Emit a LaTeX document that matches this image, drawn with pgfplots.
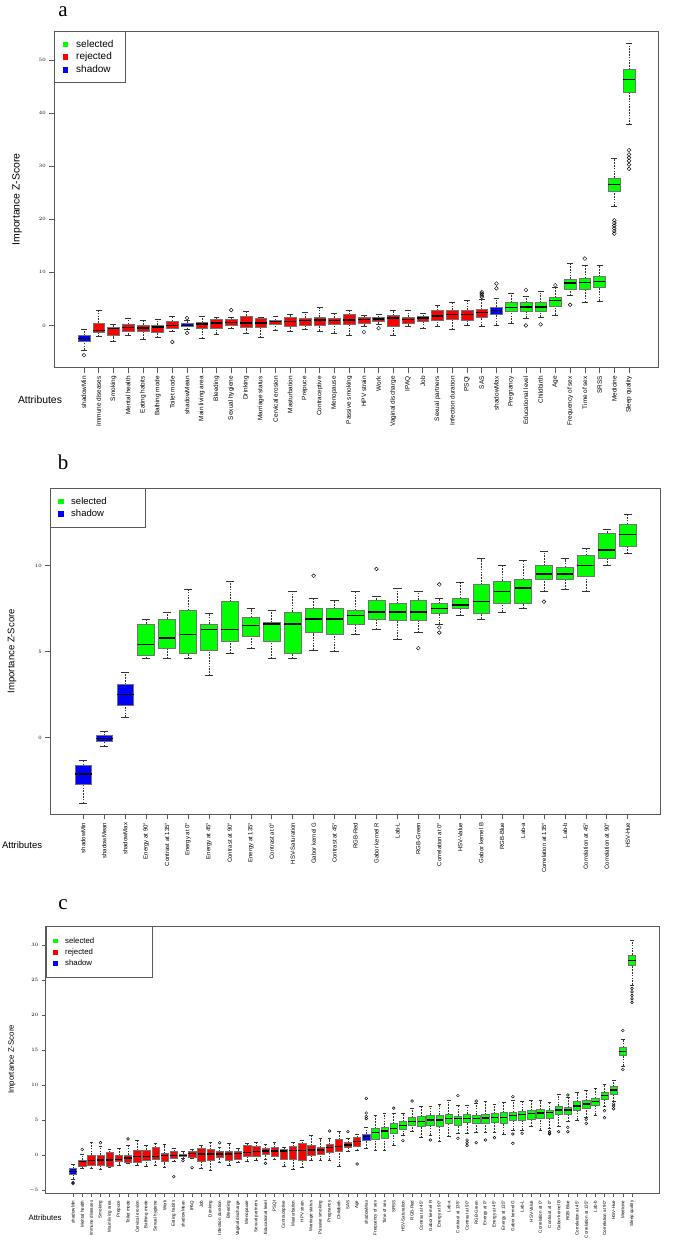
\documentclass[border=0pt]{standalone}
\usepackage{fontspec}
\setmainfont{Liberation Sans}
\newfontfamily\panelfont{Liberation Serif}
\usepackage{pgfplots}
\pgfplotsset{compat=1.18}
\usepgfplotslibrary{statistics}
\definecolor{sel}{RGB}{0,255,0}
\definecolor{rej}{RGB}{255,0,0}
\definecolor{shd}{RGB}{0,0,255}
% #1 colour, #2 position, #3 lower whisker, #4 lower quartile, #5 median, #6 upper quartile, #7 upper whisker, #8 outliers
\newcommand{\bx}[8]{\addplot[forget plot, draw=black!80, mark=o, mark options={black, line width=0.45pt, fill=none, solid},
  boxplot/every box/.style={draw=black!55, line width=0.5pt, fill=#1},
  boxplot prepared={draw position=#2, lower whisker=#3, lower quartile=#4, median=#5, upper quartile=#6, upper whisker=#7}] coordinates {#8};}
% legend square: colour, half size, half cell width
\newcommand{\legsq}[3]{\addlegendimage{legend image code/.code={\fill[#1] (-#2,-#2) rectangle (#2,#2); \path (-#3,0) (#3,0);}}}
\pgfplotsset{
 rstyle/.style={
  scale only axis,
  axis line style={draw=black!65, line width=0.8pt},
  tick style={draw=black!65, line width=0.6pt},
  tick align=outside, xtick pos=bottom, ytick pos=left,
  major tick length=5pt,
  x tick label style={rotate=90, anchor=east},
  enlargelimits=false,
  boxplot/draw direction=y,
  boxplot/box extend=0.8,
  boxplot/whisker extend=0.4,
  boxplot/every median/.style={line width=1.4pt, draw=black},
  boxplot/every whisker/.style={draw=black!80, line width=0.5pt},
  boxplot/draw/lower whisker/.code={%
    \draw[/pgfplots/boxplot/every whisker/.try, dash pattern=on 1.6pt off 1.2pt]
      (boxplot box cs:\pgfplotsboxplotvalue{lower whisker},0.5) -- (boxplot box cs:\pgfplotsboxplotvalue{lower quartile},0.5);
    \draw[/pgfplots/boxplot/every whisker/.try]
      (boxplot whisker cs:\pgfplotsboxplotvalue{lower whisker},0) -- (boxplot whisker cs:\pgfplotsboxplotvalue{lower whisker},1);
  },
  boxplot/draw/upper whisker/.code={%
    \draw[/pgfplots/boxplot/every whisker/.try, dash pattern=on 1.6pt off 1.2pt]
      (boxplot box cs:\pgfplotsboxplotvalue{upper quartile},0.5) -- (boxplot box cs:\pgfplotsboxplotvalue{upper whisker},0.5);
    \draw[/pgfplots/boxplot/every whisker/.try]
      (boxplot whisker cs:\pgfplotsboxplotvalue{upper whisker},0) -- (boxplot whisker cs:\pgfplotsboxplotvalue{upper whisker},1);
  },
  legend style={at={(0,1)}, anchor=north west, draw=black!65, line width=0.7pt, inner xsep=2pt, inner ysep=6.5pt, legend cell align=left, row sep=0pt},
 }
}
\begin{document}
\begin{tikzpicture}[x=1pt,y=1pt]
\path[use as bounding box] (0,0) rectangle (685,-1243);
\node[font=\panelfont\fontsize{21}{21}\selectfont] at (63,-12) {a};
\node[font=\panelfont\fontsize{21}{21}\selectfont] at (63,-462) {b};
\node[font=\panelfont\fontsize{21}{21}\selectfont] at (63,-905) {c};

% ---------------- panel a ----------------
\begin{axis}[rstyle, at={(54.2pt,-367.7pt)}, anchor=south west,
  width=604.6pt, height=336.7pt,
  xmin=-2.02, xmax=39.02, ymin=-7.95, ymax=55.45,
  ytick={0,10,20,30,40,50},
  y tick label style={font=\fontsize{5.5}{6}\selectfont},
  x tick label style={font=\fontsize{6.4}{7}\selectfont},
  xtick={0,...,37},
  xticklabels={shadowMin,Immune diseases,Smoking,Mental health,Eating habits,Bathing mode,Toilet mode,shadowMean,Main living area,Bleeding,Sexual hygiene,Drinking,Marriage status,Cervical erosion,Masturbation,Prepuce,Contraceptive,Menopause,Passive smoking,HPV strain,Work,Vaginal discharge,IPAQ,Job,Sexual partners,Infection duration,PSQI,SAS,shadowMax,Pregnancy,Educational level,Childbirth,Age,Frequency of sex,Time of sex,SRSS,Medicine,Sleep quality},
  ylabel={Importance Z-Score}, ylabel style={at={(axis description cs:-0.0615,0.5)}, anchor=center, font=\fontsize{10.4}{12}\selectfont},
  xlabel={Attributes}, xlabel style={at={(axis description cs:-0.0235,-0.096)}, anchor=center, font=\fontsize{10.4}{12}\selectfont},
  legend style={font=\fontsize{10}{11.5}\selectfont},
  mark size=1.9pt,
]
\legsq{sel}{2.2pt}{8.5pt}\addlegendentry{\makebox[45pt][l]{selected}}
\legsq{rej}{2.2pt}{8.5pt}\addlegendentry{\makebox[45pt][l]{rejected}}
\legsq{shd}{2.2pt}{8.5pt}\addlegendentry{\makebox[45pt][l]{shadow}}
\bx{shd}{0}{-4.6}{-3.0}{-2.4}{-1.9}{-0.75}{(0,-5.6)}
\bx{rej}{1}{-2.1}{-1.25}{-0.9}{0.5}{2.9}{}
\bx{rej}{2}{-3.0}{-1.9}{-0.6}{-0.25}{0.2}{}
\bx{rej}{3}{-1.75}{-1.1}{-0.4}{0.25}{1.4}{}
\bx{rej}{4}{-2.5}{-1.1}{-0.5}{0.1}{0.9}{}
\bx{rej}{5}{-2.25}{-1.25}{-0.3}{0.1}{1.1}{}
\bx{rej}{6}{-1.1}{-0.5}{0.0}{0.8}{1.7}{(0,-3.1)}
\bx{shd}{7}{-0.7}{-0.2}{0.05}{0.35}{0.9}{(0,1.4) (0,-1.4)}
\bx{rej}{8}{-2.4}{-0.6}{0.25}{0.6}{1.75}{}
\bx{rej}{9}{-1.6}{-0.5}{0.45}{1.1}{1.6}{}
\bx{rej}{10}{-0.6}{0.0}{0.55}{1.1}{1.6}{(0,2.9)}
\bx{rej}{11}{-1.5}{-0.4}{0.5}{1.8}{2.7}{}
\bx{rej}{12}{-2.25}{-0.4}{0.5}{1.4}{1.5}{}
\bx{rej}{13}{-0.9}{0.2}{0.7}{1.0}{1.75}{}
\bx{rej}{14}{-1.1}{-0.1}{0.75}{1.6}{2.2}{}
\bx{rej}{15}{-0.75}{0.1}{0.9}{1.4}{2.5}{}
\bx{rej}{16}{-1.0}{0.1}{1.0}{1.6}{3.5}{}
\bx{rej}{17}{-1.4}{0.25}{0.95}{1.4}{2.25}{}
\bx{rej}{18}{-1.75}{0.19}{1.0}{2.06}{2.9}{}
\bx{rej}{19}{-0.1}{0.37}{1.1}{1.56}{1.9}{(0,-1.25)}
\bx{rej}{20}{0.3}{0.8}{1.2}{1.56}{2.06}{(0,-0.5)}
\bx{rej}{21}{-1.75}{-0.2}{1.4}{1.9}{2.9}{}
\bx{rej}{22}{-0.1}{0.4}{1.1}{1.6}{2.9}{}
\bx{rej}{23}{-0.5}{0.75}{1.4}{1.75}{2.25}{}
\bx{rej}{24}{-0.1}{1.0}{1.75}{2.8}{3.8}{}
\bx{rej}{25}{-0.75}{1.25}{2.1}{2.9}{4.4}{}
\bx{rej}{26}{0.1}{0.9}{2.06}{2.9}{4.7}{}
\bx{rej}{27}{-0.1}{1.5}{2.5}{3.0}{5.0}{(0,5.4) (0,5.7) (0,6.0) (0,6.3)}
\bx{shd}{28}{0.1}{2.1}{2.8}{3.5}{5.1}{(0,7.0) (0,7.9)}
\bx{sel}{29}{0.5}{2.6}{3.4}{4.3}{6.1}{}
\bx{sel}{30}{1.4}{2.6}{3.5}{4.3}{5.5}{(0,6.7) (0,0.0)}
\bx{sel}{31}{1.6}{2.6}{3.5}{4.3}{6.5}{(0,0.2)}
\bx{sel}{32}{2.0}{3.7}{4.7}{5.3}{7.2}{(0,7.6)}
\bx{sel}{33}{5.6}{6.9}{8.0}{8.75}{11.7}{(0,3.9)}
\bx{sel}{34}{4.4}{6.75}{8.1}{8.9}{11.4}{(0,12.6)}
\bx{sel}{35}{4.6}{7.2}{8.25}{9.25}{11.4}{}
\bx{sel}{36}{22.5}{25.3}{26.6}{27.8}{31.5}{(0,17.3) (0,17.8) (0,18.3) (0,18.8) (0,19.3) (0,19.8)}
\bx{sel}{37}{37.8}{44.0}{46.3}{48.2}{53.2}{(0,29.5) (0,30.3) (0,31.0) (0,31.6) (0,32.2) (0,33.0)}
\end{axis}

% ---------------- panel b ----------------
\begin{axis}[rstyle, at={(50.2pt,-814.3pt)}, anchor=south west,
  width=610.6pt, height=326.3pt,
  xmin=-1.58, xmax=27.58, ymin=-4.45, ymax=14.5,
  ytick={0,5,10},
  y tick label style={font=\fontsize{5.5}{6}\selectfont},
  x tick label style={font=\fontsize{6}{7}\selectfont},
  xtick={0,...,26},
  xticklabels={shadowMin,shadowMean,shadowMax,Energy at 90°,Contrast at 135°,Energy at 0°,Energy at 45°,Contrast at 90°,Energy at 135°,Contrast at 0°,HSV-Saturation,Gabor kernel G,Contrast at 45°,RGB-Red,Gabor kernel R,Lab-L,RGB-Green,Correlation at 0°,HSV-Value,Gabor kernel B,RGB-Blue,Lab-a,Correlation at 135°,Lab-b,Correlation at 45°,Correlation at 90°,HSV-Hue},
  ylabel={Importance Z-Score}, ylabel style={at={(axis description cs:-0.0626,0.5)}, anchor=center, font=\fontsize{9.5}{11}\selectfont},
  xlabel={Attributes}, xlabel style={at={(axis description cs:-0.046,-0.094)}, anchor=center, font=\fontsize{9.5}{11}\selectfont},
  legend style={font=\fontsize{9.5}{11}\selectfont, inner ysep=7pt},
  mark size=1.9pt,
]
\legsq{sel}{2.2pt}{8pt}\addlegendentry{\makebox[70pt][l]{selected}}
\legsq{shd}{2.2pt}{8pt}\addlegendentry{\makebox[70pt][l]{shadow}}
\bx{shd}{0}{-3.8}{-2.7}{-2.1}{-1.6}{-1.3}{}
\bx{shd}{1}{-0.5}{-0.2}{-0.05}{0.15}{0.35}{}
\bx{shd}{2}{1.2}{1.9}{2.5}{3.1}{3.8}{}
\bx{sel}{3}{4.6}{4.8}{5.4}{6.6}{6.9}{}
\bx{sel}{4}{4.6}{5.2}{5.8}{6.9}{7.3}{}
\bx{sel}{5}{4.6}{4.9}{6.0}{7.4}{8.6}{}
\bx{sel}{6}{3.6}{5.1}{6.3}{6.6}{7.2}{}
\bx{sel}{7}{4.9}{5.6}{6.3}{7.9}{9.1}{}
\bx{sel}{8}{5.2}{5.9}{6.5}{7.0}{7.5}{}
\bx{sel}{9}{4.6}{5.6}{6.6}{6.7}{7.4}{}
\bx{sel}{10}{4.6}{4.9}{6.6}{7.3}{8.5}{}
\bx{sel}{11}{5.1}{6.1}{6.9}{7.5}{8.1}{(0,9.4)}
\bx{sel}{12}{5.0}{6.0}{6.9}{7.5}{8.0}{}
\bx{sel}{13}{6.0}{6.6}{7.1}{7.4}{8.5}{}
\bx{sel}{14}{6.3}{6.9}{7.3}{8.0}{8.2}{(0,9.8)}
\bx{sel}{15}{5.7}{6.8}{7.3}{7.8}{8.7}{}
\bx{sel}{16}{6.1}{6.8}{7.3}{8.0}{8.5}{(0,5.2)}
\bx{sel}{17}{6.6}{7.2}{7.5}{7.8}{8.1}{(0,8.9) (0,6.4) (0,6.1)}
\bx{sel}{18}{7.1}{7.5}{7.7}{8.1}{9.0}{}
\bx{sel}{19}{6.9}{7.2}{7.9}{8.9}{10.4}{}
\bx{sel}{20}{7.3}{7.8}{8.5}{9.1}{10.0}{}
\bx{sel}{21}{7.5}{7.8}{8.7}{9.2}{10.3}{}
\bx{sel}{22}{8.5}{9.2}{9.5}{10.0}{10.8}{(0,7.9)}
\bx{sel}{23}{8.6}{9.2}{9.5}{9.9}{10.4}{}
\bx{sel}{24}{8.5}{9.4}{10.0}{10.6}{11.0}{}
\bx{sel}{25}{10.0}{10.4}{10.9}{11.9}{12.1}{}
\bx{sel}{26}{10.7}{11.1}{11.8}{12.4}{13.0}{}
\end{axis}

% ---------------- panel c ----------------
\begin{axis}[rstyle, at={(45.7pt,-1193pt)}, anchor=south west,
  width=613.6pt, height=267pt,
  xmin=-2.98, xmax=63.98, ymin=-5.43, ymax=32.71,
  ytick={-5,0,5,10,15,20,25,30},
  major tick length=4pt,
  y tick label style={font=\fontsize{4.6}{5}\selectfont},
  x tick label style={font=\fontsize{4.5}{5}\selectfont},
  xtick={0,...,61},
  xticklabels={shadowMin,Mental health,Immune diseases,Smoking,Main living area,Prepuce,Toilet mode,Cervical erosion,Bathing mode,Sexual hygiene,Work,Eating habits,shadowMean,IPAQ,Job,Drinking,Infection duration,Bleeding,Vaginal discharge,Menopause,Sexual partners,Educational level,PSQI,Contraceptive,Masturbation,HPV strain,Marriage status,Passive smoking,Pregnancy,Childbirth,SAS,Age,shadowMax,Frequency of sex,Time of sex,SRSS,HSV-Saturation,RGB-Red,Contrast at 45°,Gabor kernel R,Energy at 90°,Lab-a,Contrast at 135°,Contrast at 90°,RGB-Green,Energy at 0°,Energy at 45°,Energy at 135°,Gabor kernel G,Lab-L,HSV-Value,Correlation at 0°,Contrast at 0°,Gabor kernel B,RGB-Blue,Correlation at 45°,Correlation at 135°,Lab-b,Correlation at 90°,HSV-Hue,Medicine,Sleep quality},
  ylabel={Importance Z-Score}, ylabel style={at={(axis description cs:-0.055,0.5)}, anchor=center, font=\fontsize{7.8}{9}\selectfont},
  xlabel={Attributes}, xlabel style={at={(axis description cs:-0.001,-0.094)}, anchor=center, font=\fontsize{7.8}{9}\selectfont},
  legend style={font=\fontsize{7.8}{9}\selectfont, inner xsep=1.5pt, inner ysep=9pt, row sep=0pt},
  mark size=1.4pt,
]
\legsq{sel}{1.8pt}{7.5pt}\addlegendentry{\makebox[84pt][l]{selected}}
\legsq{rej}{1.8pt}{7.5pt}\addlegendentry{\makebox[84pt][l]{rejected}}
\legsq{shd}{1.8pt}{7.5pt}\addlegendentry{\makebox[84pt][l]{shadow}}
\bx{shd}{0}{-3.4}{-2.8}{-2.38}{-1.95}{-1.33}{(0,-3.95) (0,-4.1)}
\bx{rej}{1}{-1.9}{-1.57}{-0.95}{-0.71}{0.14}{(0,0.8)}
\bx{rej}{2}{-1.9}{-1.5}{-0.8}{0.0}{1.76}{}
\bx{rej}{3}{-2.05}{-1.4}{-0.7}{0.0}{1.2}{(0,1.76)}
\bx{rej}{4}{-1.76}{-1.57}{-0.71}{0.38}{0.8}{}
\bx{rej}{5}{-1.4}{-0.95}{-0.62}{-0.05}{0.95}{}
\bx{rej}{6}{-1.2}{-1.0}{-0.43}{0.0}{1.38}{(0,2.3)}
\bx{rej}{7}{-1.4}{-1.1}{-0.24}{0.62}{2.05}{}
\bx{rej}{8}{-1.57}{-0.71}{-0.24}{0.71}{1.38}{}
\bx{rej}{9}{-1.5}{-0.62}{-0.19}{1.05}{1.67}{}
\bx{rej}{10}{-1.76}{-0.95}{-0.1}{0.24}{1.48}{}
\bx{rej}{11}{-0.95}{-0.48}{-0.05}{0.48}{0.95}{(0,-3.1)}
\bx{shd}{12}{-0.48}{-0.24}{-0.05}{0.14}{0.57}{(0,-0.81)}
\bx{rej}{13}{-0.52}{-0.29}{0.24}{0.57}{0.86}{(0,-1.81)}
\bx{rej}{14}{-1.9}{-0.86}{0.14}{0.9}{1.33}{}
\bx{rej}{15}{-2.24}{-0.71}{0.14}{0.81}{1.86}{}
\bx{rej}{16}{-1.1}{-0.38}{0.14}{0.48}{1.1}{(0,1.76)}
\bx{rej}{17}{-1.4}{-0.71}{0.14}{0.48}{1.67}{}
\bx{rej}{18}{-1.1}{-0.62}{0.2}{0.57}{0.95}{}
\bx{rej}{19}{-0.86}{-0.14}{0.33}{1.38}{1.67}{}
\bx{rej}{20}{-0.71}{-0.14}{0.48}{1.19}{1.81}{}
\bx{rej}{21}{-0.62}{0.14}{0.55}{0.9}{1.57}{(0,-1.2)}
\bx{rej}{22}{-0.62}{-0.24}{0.57}{1.05}{1.76}{}
\bx{rej}{23}{-1.57}{-0.62}{0.57}{0.81}{1.05}{}
\bx{rej}{24}{-2.05}{-0.57}{0.62}{1.19}{1.76}{}
\bx{rej}{25}{-1.76}{-0.71}{0.67}{1.67}{2.14}{}
\bx{rej}{26}{-0.71}{-0.05}{0.71}{1.38}{2.86}{}
\bx{rej}{27}{-0.71}{0.14}{0.71}{1.05}{2.33}{}
\bx{rej}{28}{-0.71}{0.33}{1.05}{1.52}{2.33}{(0,3.43)}
\bx{rej}{29}{-1.57}{0.52}{1.19}{2.24}{3.33}{}
\bx{rej}{30}{0.48}{1.05}{1.43}{1.81}{2.38}{(0,3.33)}
\bx{rej}{31}{0.7}{1.29}{1.9}{2.52}{3.0}{(0,-1.29)}
\bx{shd}{32}{0.95}{2.14}{2.62}{3.0}{4.0}{(0,5.2) (0,5.5) (0,6.0) (0,8.1)}
\bx{sel}{33}{0.62}{2.24}{3.19}{3.81}{5.71}{}
\bx{sel}{34}{0.62}{2.38}{3.43}{3.9}{5.95}{}
\bx{sel}{35}{1.43}{3.1}{3.81}{4.52}{5.95}{(0,6.7)}
\bx{sel}{36}{2.86}{3.71}{4.24}{4.76}{5.95}{(0,2.05)}
\bx{sel}{37}{3.33}{4.29}{4.76}{5.33}{6.67}{(0,7.71)}
\bx{sel}{38}{2.52}{4.05}{4.78}{5.48}{6.9}{}
\bx{sel}{39}{2.86}{4.29}{5.0}{5.71}{6.9}{(0,2.14)}
\bx{sel}{40}{1.9}{4.14}{5.0}{5.71}{7.24}{}
\bx{sel}{41}{2.62}{4.52}{5.19}{5.81}{7.76}{}
\bx{sel}{42}{3.1}{4.3}{5.2}{5.6}{7.14}{(0,8.48) (0,2.38)}
\bx{sel}{43}{3.1}{4.62}{5.24}{5.86}{7.14}{(0,2.14) (0,1.76) (0,1.38)}
\bx{sel}{44}{3.19}{4.52}{5.24}{5.71}{7.38}{(0,7.7) (0,1.76)}
\bx{sel}{45}{3.19}{4.52}{5.29}{5.81}{7.62}{(0,2.14)}
\bx{sel}{46}{3.19}{4.62}{5.33}{5.95}{7.29}{(0,2.48)}
\bx{sel}{47}{3.0}{4.52}{5.38}{6.05}{7.48}{}
\bx{sel}{48}{3.57}{4.9}{5.62}{6.1}{7.86}{(0,8.33) (0,3.0) (0,1.67)}
\bx{sel}{49}{3.57}{5.0}{5.81}{6.29}{7.62}{(0,3.1)}
\bx{sel}{50}{4.05}{5.14}{5.9}{6.33}{7.76}{}
\bx{sel}{51}{3.57}{5.24}{6.0}{6.52}{7.76}{}
\bx{sel}{52}{3.81}{5.24}{6.05}{6.43}{7.48}{(0,3.33) (0,3.1) (0,3.0)}
\bx{sel}{53}{4.05}{5.76}{6.43}{7.0}{8.67}{(0,3.33)}
\bx{sel}{54}{4.76}{5.81}{6.45}{6.76}{8.24}{(0,8.57) (0,3.95) (0,3.33)}
\bx{sel}{55}{5.0}{6.33}{7.0}{7.62}{8.9}{}
\bx{sel}{56}{5.38}{6.67}{7.29}{7.76}{9.29}{(0,5.1) (0,4.52)}
\bx{sel}{57}{5.71}{7.14}{7.62}{8.1}{9.52}{}
\bx{sel}{58}{6.9}{7.95}{8.48}{8.9}{10.14}{(0,6.33) (0,5.33)}
\bx{sel}{59}{7.62}{8.71}{9.29}{9.76}{10.7}{(0,7.3) (0,7.0) (0,6.6)}
\bx{sel}{60}{12.7}{14.2}{14.8}{15.4}{16.5}{(0,17.8) (0,12.2)}
\bx{sel}{61}{24.3}{27.1}{27.8}{28.6}{30.7}{(0,21.8) (0,22.3) (0,22.8) (0,23.3) (0,23.8)}
\end{axis}
\end{tikzpicture}
\end{document}
